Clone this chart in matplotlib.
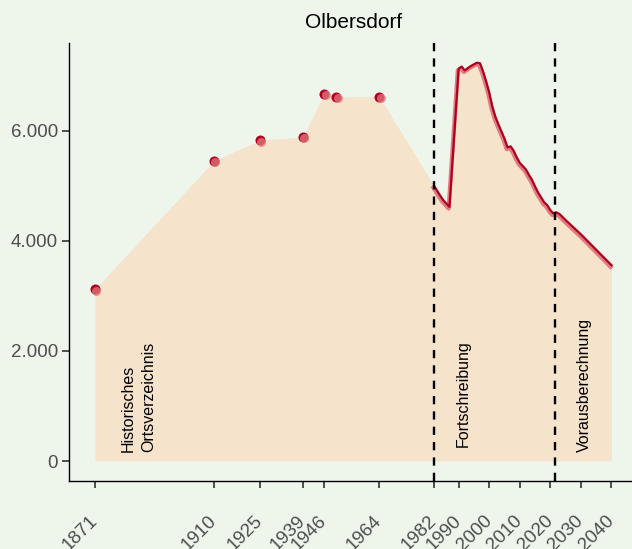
import numpy as np
import matplotlib
matplotlib.use("Agg")
import matplotlib.pyplot as plt
from matplotlib import transforms
from matplotlib.ticker import FuncFormatter

plt.rcParams['font.family'] = ['Liberation Sans', 'DejaVu Sans']

# historische Einwohnerzahlen (Ortsverzeichnis)
hist_years = [1871, 1910, 1925, 1939, 1946, 1950, 1964]
hist_pop = [3120, 5460, 5830, 5890, 6670, 6620, 6625]

# Fortschreibung + Vorausberechnung
line_years = [1982, 1983, 1984, 1985, 1986, 1987, 1990, 1991, 1992, 1993,
              1994, 1995, 1996, 1997, 1998, 1999, 2000, 2001, 2002, 2003,
              2004, 2005, 2006, 2007, 2008, 2009, 2010, 2011, 2012, 2013,
              2014, 2015, 2016, 2017, 2018, 2019, 2020, 2021, 2022, 2023,
              2025, 2030, 2035, 2040]
line_pop = [5000, 4910, 4820, 4740, 4680, 4620, 7130, 7170, 7100, 7140,
            7180, 7210, 7240, 7230, 7080, 6900, 6700, 6450, 6260, 6120,
            5990, 5860, 5700, 5720, 5640, 5520, 5420, 5360, 5300, 5200,
            5110, 4990, 4880, 4790, 4700, 4650, 4560, 4500, 4520, 4490,
            4380, 4120, 3840, 3560]

xticks = [1871, 1910, 1925, 1939, 1946, 1964, 1982, 1990, 2000, 2010, 2020, 2030, 2040]
yticks = [0, 2000, 4000, 6000]
vlines = [1982, 2021.5]

bg = '#eef6ec'
fill_col = '#f5e3cc'
red = '#b0001e'
red_light = '#e07b80'

fig = plt.figure(figsize=(6.32, 5.49), dpi=100)
fig.patch.set_facecolor(bg)
ax = fig.add_axes([0.1092, 0.124, 0.8992, 0.798])
ax.set_facecolor(bg)

all_x = hist_years + line_years
all_y = hist_pop + line_pop
ax.fill_between(all_x, 0, all_y, color=fill_col, lw=0, zorder=1)

# rote Linie mit hellem Schatten
shadow = transforms.offset_copy(ax.transData, fig=fig, x=-0.6, y=-1.2, units='points')
ax.plot(line_years, line_pop, color=red_light, lw=3.0, transform=shadow, zorder=3,
        solid_joinstyle='round')
ax.plot(line_years, line_pop, color=red, lw=1.6, zorder=4, solid_joinstyle='round')

# Punkte
ax.scatter(hist_years, hist_pop, s=52, color=red, lw=0, zorder=5)
pt_shift = transforms.offset_copy(ax.transData, fig=fig, x=1.0, y=-1.0, units='points')
ax.scatter(hist_years, hist_pop, s=42, color=red_light, alpha=0.75, lw=0, zorder=6,
           transform=pt_shift)

for v in vlines:
    ax.axvline(v, color='black', lw=1.7, linestyle=(0, (3.5, 3)), zorder=7)

ax.text(1885.2, 170, 'Historisches\nOrtsverzeichnis', rotation=90, ha='center',
        va='bottom', fontsize=11.5, linespacing=1.45, multialignment='left', zorder=8)
ax.text(1991.6, 255, 'Fortschreibung', rotation=90, ha='center', va='bottom',
        fontsize=11.5, zorder=8)
ax.text(2031.2, 165, 'Vorausberechnung', rotation=90, ha='center', va='bottom',
        fontsize=11.5, zorder=8)

ax.set_xlim(1862.55, 2048.45)
ax.set_ylim(-362, 7602)
ax.set_xticks(xticks)
ax.set_yticks(yticks)
ax.yaxis.set_major_formatter(FuncFormatter(lambda v, p: f'{int(v):,}'.replace(',', '.')))
ax.set_xticklabels([str(x) for x in xticks], rotation=45, ha='right',
                   rotation_mode='anchor', va='center')
ax.tick_params(axis='both', colors='#333333', labelcolor='#4d4d4d', labelsize=13.5,
               length=5, width=1.2)
ax.tick_params(axis='x', pad=22)
ax.tick_params(axis='y', pad=3)

for s in ['top', 'right']:
    ax.spines[s].set_visible(False)
for s in ['left', 'bottom']:
    ax.spines[s].set_color('black')
    ax.spines[s].set_linewidth(1.0)

ax.set_title('Olbersdorf', fontsize=15, pad=11)

fig.savefig('out.png', dpi=100, facecolor=bg)
